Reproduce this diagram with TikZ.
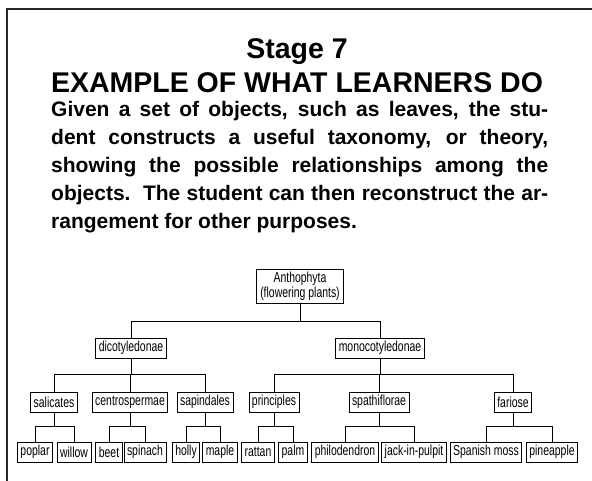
\documentclass[tikz,border=0pt]{standalone}
\usepackage{fontspec}
\setmainfont{Liberation Sans}
\newfontfamily\treefont[FakeStretch=0.72]{Liberation Sans}

\begin{document}
\begin{tikzpicture}[
    x=1pt, y=-1pt,
    heading/.style={anchor=base, inner sep=0pt, font=\bfseries\fontsize{28.5}{34}\selectfont},
    taxon/.style={rectangle, draw, fill=white, line width=0.8pt, minimum height=20pt, inner xsep=3pt, inner ysep=0pt, align=center, font=\treefont\fontsize{14.5}{14}\selectfont},
    link/.style={line width=0.8pt}
]
\useasboundingbox (0,0) rectangle (592,481);

% Frame
\draw[line width=1.6pt, black!85] (7,495) -- (7,9) -- (605,9);

% Title
\node[heading] (stage) at (297,59) {Stage 7};
\node[heading] (title) at (297,93) {EXAMPLE OF WHAT LEARNERS DO};

% Description
\node[anchor=north west, inner sep=0pt, text width=497pt, align=justify, font=\bfseries\fontsize{21}{28}\selectfont] (desc) at (51,101) {%
    Given a set of objects, such as leaves, the stu-\linebreak
    dent constructs a useful taxonomy, or theory,\linebreak
    showing the possible relationships among the\linebreak
    objects.\ \ The student can then reconstruct the ar-\linebreak
    rangement for other purposes.};

% Division
\node[taxon, minimum height=34pt, inner xsep=4pt, font=\treefont\fontsize{14.5}{15}\selectfont] (anth) at (300,286) {Anthophyta\\(flowering plants)};

% Classes
\node[taxon] (dicot) at (131,348) {dicotyledonae};
\node[taxon] (monocot) at (380,348) {monocotyledonae};

\draw[link] (anth.south) -- ++(0,18) -| (dicot.north);
\draw[link] (anth.south) -- ++(0,18) -| (monocot.north);

% Orders
\node[taxon] (salic) at (54,402) {salicates};
\node[taxon] (centro) at (130,402) {centrospermae};
\node[taxon] (sapin) at (205,402) {sapindales};
\node[taxon] (princ) at (274,402) {principles};
\node[taxon] (spath) at (379,402) {spathiflorae};
\node[taxon] (farios) at (513,402) {fariose};

\draw[link] (dicot.south) -- ++(0,16) -| (salic.north);
\draw[link] (dicot.south) -- ++(0,16) -| (centro.north);
\draw[link] (dicot.south) -- ++(0,16) -| (sapin.north);
\draw[link] (monocot.south) -- ++(0,16) -| (princ.north);
\draw[link] (monocot.south) -- ++(0,16) -| (spath.north);
\draw[link] (monocot.south) -- ++(0,16) -| (farios.north);

% Plants
\node[taxon] (poplar) at (35,452) {poplar};
\node[taxon] (willow) at (74,452) {willow};
\node[taxon] (beet) at (109,452) {beet};
\node[taxon] (spinach) at (145,452) {spinach};
\node[taxon] (holly) at (186,452) {holly};
\node[taxon] (maple) at (220,452) {maple};
\node[taxon] (rattan) at (258,452) {rattan};
\node[taxon] (palm) at (293,452) {palm};
\node[taxon] (philo) at (345,452) {philodendron};
\node[taxon] (jack) at (414,452) {jack-in-pulpit};
\node[taxon] (moss) at (486,452) {Spanish moss};
\node[taxon] (pineapple) at (552,452) {pineapple};

\draw[link] (salic.south) -- ++(0,14) -| (poplar.north);
\draw[link] (salic.south) -- ++(0,14) -| (willow.north);
\draw[link] (centro.south) -- ++(0,14) -| (beet.north);
\draw[link] (centro.south) -- ++(0,14) -| (spinach.north);
\draw[link] (sapin.south) -- ++(0,14) -| (holly.north);
\draw[link] (sapin.south) -- ++(0,14) -| (maple.north);
\draw[link] (princ.south) -- ++(0,14) -| (rattan.north);
\draw[link] (princ.south) -- ++(0,14) -| (palm.north);
\draw[link] (spath.south) -- ++(0,14) -| (philo.north);
\draw[link] (spath.south) -- ++(0,14) -| (jack.north);
\draw[link] (farios.south) -- ++(0,14) -| (moss.north);
\draw[link] (farios.south) -- ++(0,14) -| (pineapple.north);

\end{tikzpicture}
\end{document}
